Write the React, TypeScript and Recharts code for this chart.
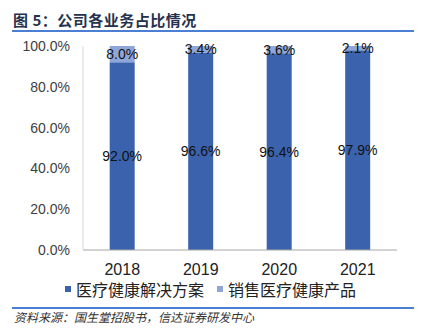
import { BarChart, Bar, XAxis, YAxis, LabelList } from "recharts";

const years = ["2018", "2019", "2020", "2021"];
const solutions = [0.92, 0.966, 0.964, 0.979];
const products = [0.08, 0.034, 0.036, 0.021];
const yTicks = [0, 0.2, 0.4, 0.6, 0.8, 1];

const DARK = "#3b62ac";
const LIGHT = "#8fa7d8";
const NUM_FONT = "'Liberation Sans', Arial, sans-serif";
const CJK_FONT = "'Noto Sans CJK SC', 'Liberation Sans', sans-serif";

const data = years.map((year, i) => ({
  year,
  solutions: solutions[i],
  products: products[i],
}));

const pct = (v: any) => (Number(v) * 100).toFixed(1) + "%";

export default function App() {
  return (
    <div style={{ position: "absolute", left: 0, top: 0, width: 424, height: 334, background: "#fff", overflow: "hidden" }}>
      <div style={{ position: "absolute", left: 13, top: 9, fontFamily: CJK_FONT, fontWeight: 700, fontSize: 15, letterSpacing: 0.5, color: "#25324f", whiteSpace: "nowrap" }}>
        图 5：公司各业务占比情况
      </div>
      <div style={{ position: "absolute", left: 12, top: 30, width: 402, height: 2, background: "#4a7fd4" }} />

      <div style={{ position: "absolute", left: 0, top: 0 }}>
        <BarChart width={424} height={334} data={data} margin={{ top: 46, right: 27, left: 0, bottom: 54 }} barCategoryGap="34%">
          <XAxis
            dataKey="year"
            axisLine={{ stroke: "#a6a6a6" }}
            tickLine={false}
            tickMargin={8}
            height={30}
            tick={{ fill: "#222", fontSize: 16, fontFamily: NUM_FONT }}
          />
          <YAxis
            domain={[0, 1]}
            ticks={yTicks}
            tickFormatter={pct}
            width={83}
            axisLine={{ stroke: "#d9d9d9" }}
            tickLine={false}
            tickMargin={7}
            tick={{ fill: "#404040", fontSize: 14, fontFamily: NUM_FONT }}
          />
          <Bar dataKey="solutions" stackId="a" fill={DARK} isAnimationActive={false}>
            <LabelList dataKey="solutions" position="center" formatter={pct} fill="#111" fontSize={14} fontFamily={NUM_FONT} />
          </Bar>
          <Bar dataKey="products" stackId="a" fill={LIGHT} isAnimationActive={false}>
            <LabelList dataKey="products" position="center" formatter={pct} fill="#111" fontSize={14} fontFamily={NUM_FONT} />
          </Bar>
        </BarChart>
      </div>

      <div style={{ position: "absolute", left: 65, top: 277, display: "flex", alignItems: "center", fontFamily: CJK_FONT, fontSize: 16, color: "#222", whiteSpace: "nowrap" }}>
        <span style={{ width: 6, height: 6, background: DARK, marginRight: 5 }} />
        <span>医疗健康解决方案</span>
        <span style={{ width: 6, height: 6, background: LIGHT, marginLeft: 13, marginRight: 5 }} />
        <span>销售医疗健康产品</span>
      </div>

      <div style={{ position: "absolute", left: 12, top: 307, width: 402, height: 2, background: "#4a7fd4" }} />
      <div style={{ position: "absolute", left: 14, top: 308, fontFamily: CJK_FONT, fontStyle: "italic", fontSize: 12, color: "#333", whiteSpace: "nowrap" }}>
        资料来源：国生堂招股书，信达证券研发中心
      </div>
    </div>
  );
}
